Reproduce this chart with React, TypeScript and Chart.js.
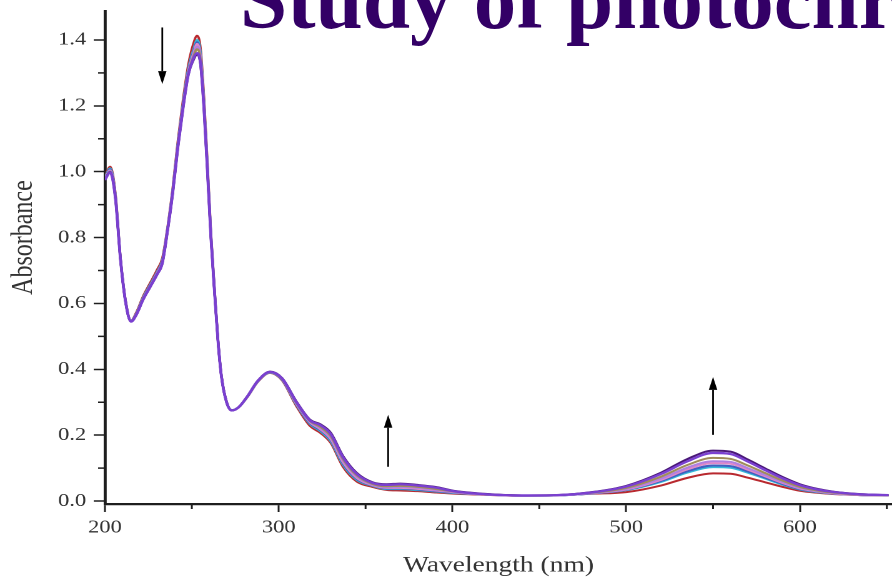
import React, { useEffect, useRef } from 'react';
import { Chart, registerables } from 'chart.js';

Chart.register(...registerables);

// ---------------- data ----------------
const wavelengths = [
  200, 203, 206, 209, 212, 215, 218, 222, 226, 230,
  233, 236, 239, 242, 245, 248, 251, 253, 255, 257,
  259, 261, 263, 265, 267, 270, 273, 277, 282, 288,
  295, 302, 310, 318, 324, 330, 337, 345, 354, 362,
  370, 380, 390, 402, 418, 440, 460, 480, 500, 520,
  535, 550, 560, 570, 580, 590, 600, 610, 620, 635, 651,
];

const absRed = [
  0.985, 1.015, 0.935, 0.735, 0.605, 0.548, 0.572, 0.622, 0.662, 0.702,
  0.737, 0.83, 0.95, 1.095, 1.22, 1.325, 1.39, 1.413, 1.375, 1.225,
  1.025, 0.815, 0.65, 0.495, 0.383, 0.302, 0.276, 0.285, 0.316, 0.362,
  0.389, 0.366, 0.29, 0.228, 0.207, 0.176, 0.104, 0.059, 0.043, 0.034,
  0.032, 0.030, 0.026, 0.022, 0.019, 0.016, 0.017, 0.022, 0.027, 0.047,
  0.070, 0.084, 0.083, 0.071, 0.057, 0.043, 0.031, 0.025, 0.021, 0.018, 0.017,
];
const absCyan = [
  0.982, 1.01, 0.93, 0.733, 0.603, 0.547, 0.569, 0.618, 0.657, 0.696,
  0.731, 0.826, 0.944, 1.087, 1.21, 1.313, 1.372, 1.40, 1.362, 1.212,
  1.016, 0.81, 0.646, 0.493, 0.382, 0.301, 0.276, 0.285, 0.317, 0.363,
  0.39, 0.368, 0.294, 0.234, 0.212, 0.181, 0.110, 0.064, 0.046, 0.036,
  0.036, 0.033, 0.029, 0.024, 0.020, 0.016, 0.017, 0.023, 0.033, 0.058,
  0.086, 0.103, 0.101, 0.086, 0.068, 0.050, 0.035, 0.027, 0.022, 0.018, 0.017,
];
const absBlue = [
  0.98, 1.007, 0.928, 0.732, 0.602, 0.546, 0.568, 0.616, 0.655, 0.694,
  0.728, 0.824, 0.941, 1.083, 1.205, 1.308, 1.365, 1.393, 1.355, 1.206,
  1.011, 0.807, 0.644, 0.492, 0.381, 0.301, 0.276, 0.285, 0.317, 0.364,
  0.391, 0.369, 0.296, 0.236, 0.215, 0.185, 0.114, 0.067, 0.047, 0.038,
  0.038, 0.035, 0.030, 0.025, 0.020, 0.016, 0.017, 0.023, 0.034, 0.061,
  0.090, 0.108, 0.106, 0.090, 0.071, 0.052, 0.036, 0.028, 0.022, 0.018, 0.017,
];
const absPink = [
  0.979, 1.004, 0.926, 0.731, 0.601, 0.546, 0.567, 0.615, 0.653, 0.692,
  0.726, 0.822, 0.939, 1.08, 1.202, 1.304, 1.36, 1.388, 1.35, 1.202,
  1.008, 0.805, 0.643, 0.491, 0.381, 0.3, 0.275, 0.285, 0.318, 0.364,
  0.391, 0.37, 0.297, 0.239, 0.218, 0.188, 0.118, 0.070, 0.048, 0.040,
  0.040, 0.037, 0.032, 0.026, 0.020, 0.016, 0.017, 0.024, 0.035, 0.064,
  0.096, 0.115, 0.113, 0.095, 0.075, 0.055, 0.038, 0.029, 0.023, 0.018, 0.017,
];
const absLavender = [
  0.978, 1.002, 0.924, 0.731, 0.601, 0.545, 0.566, 0.614, 0.652, 0.69,
  0.724, 0.821, 0.937, 1.078, 1.199, 1.3, 1.355, 1.38, 1.345, 1.198,
  1.005, 0.803, 0.642, 0.491, 0.38, 0.3, 0.275, 0.285, 0.318, 0.365,
  0.392, 0.371, 0.299, 0.241, 0.221, 0.192, 0.123, 0.074, 0.050, 0.042,
  0.043, 0.040, 0.034, 0.027, 0.021, 0.017, 0.017, 0.024, 0.037, 0.068,
  0.101, 0.121, 0.119, 0.100, 0.079, 0.058, 0.040, 0.030, 0.024, 0.019, 0.017,
];
const absOlive = [
  0.977, 1.0, 0.922, 0.73, 0.6, 0.545, 0.566, 0.613, 0.651, 0.689,
  0.723, 0.82, 0.936, 1.077, 1.197, 1.298, 1.35, 1.372, 1.34, 1.195,
  1.003, 0.802, 0.641, 0.49, 0.38, 0.3, 0.275, 0.285, 0.318, 0.365,
  0.392, 0.371, 0.3, 0.243, 0.225, 0.197, 0.128, 0.078, 0.052, 0.045,
  0.046, 0.043, 0.037, 0.028, 0.021, 0.017, 0.018, 0.025, 0.040, 0.074,
  0.109, 0.131, 0.128, 0.108, 0.085, 0.062, 0.043, 0.032, 0.025, 0.019, 0.017,
];
const absDarkPurple = [
  0.976, 0.999, 0.921, 0.73, 0.6, 0.545, 0.565, 0.612, 0.65, 0.688,
  0.722, 0.82, 0.935, 1.075, 1.195, 1.295, 1.34, 1.356, 1.325, 1.188,
  1.0, 0.8, 0.64, 0.49, 0.38, 0.3, 0.275, 0.285, 0.318, 0.365,
  0.393, 0.373, 0.304, 0.247, 0.233, 0.207, 0.137, 0.085, 0.057, 0.051,
  0.053, 0.049, 0.043, 0.030, 0.022, 0.017, 0.018, 0.027, 0.046, 0.086,
  0.127, 0.153, 0.150, 0.126, 0.099, 0.073, 0.051, 0.037, 0.028, 0.021, 0.018,
];
const absViolet = [
  0.975, 0.998, 0.92, 0.73, 0.6, 0.545, 0.565, 0.612, 0.65, 0.688,
  0.722, 0.82, 0.935, 1.075, 1.195, 1.295, 1.345, 1.36, 1.33, 1.19,
  1.0, 0.8, 0.64, 0.49, 0.38, 0.3, 0.275, 0.285, 0.318, 0.365,
  0.392, 0.372, 0.302, 0.245, 0.23, 0.203, 0.133, 0.082, 0.055, 0.049,
  0.051, 0.047, 0.041, 0.029, 0.021, 0.017, 0.018, 0.026, 0.044, 0.082,
  0.12, 0.146, 0.143, 0.12, 0.094, 0.069, 0.048, 0.035, 0.027, 0.02, 0.018,
];

// drawn on top first (Chart.js paints dataset 0 last)
const seriesValues = [absViolet, absDarkPurple, absOlive, absLavender, absPink, absBlue, absCyan, absRed];
const seriesColors = ['#7a40d0', '#4a1878', '#a08c5a', '#b080e0', '#e088c8', '#4060c0', '#35b8d8', '#b8292f'];

// arrows showing the direction of change
const arrowWavelengths = [233, 363, 550];
const arrowFrom = [1.438, 0.104, 0.201];
const arrowTo = [1.266, 0.262, 0.377];

const X_TITLE = 'Wavelength (nm)';
const Y_TITLE = 'Absorbance';
const PAGE_TITLE = 'Study of photochromism';

const X_MIN = 200;
const X_MAX = 653;
const Y_MIN = -0.009;
const Y_MAX = 1.488;
const Y_TITLE_CENTER = 0.8; // axis value where the rotated y title is centred

// ---------------- styling ----------------
const SERIF = "'Liberation Serif', 'Times New Roman', serif";
const AXIS_COLOR = '#1e1e1e';
const TEXT_COLOR = '#333333';
const PAGE_W = 892;
const PAGE_H = 581;
const CHART_W = 714; // drawn then stretched horizontally like the reference picture

const isMajorY = (v: number) => Math.round(v * 10) % 2 === 0;
const isMajorX = (v: number) => Math.round(v) % 100 === 0;

const minorTicksPlugin = {
  id: 'minorTicks',
  afterDraw(chart: any) {
    const { ctx, chartArea } = chart;
    const xs = chart.scales.x;
    const ys = chart.scales.y;
    ctx.save();
    ctx.strokeStyle = AXIS_COLOR;
    ctx.lineWidth = 1.5;
    xs.ticks.forEach((t: any) => {
      if (!isMajorX(t.value)) {
        const px = xs.getPixelForValue(t.value);
        ctx.beginPath();
        ctx.moveTo(px, chartArea.bottom);
        ctx.lineTo(px, chartArea.bottom + 5);
        ctx.stroke();
      }
    });
    ys.ticks.forEach((t: any) => {
      if (!isMajorY(t.value)) {
        const py = ys.getPixelForValue(t.value);
        ctx.beginPath();
        ctx.moveTo(chartArea.left, py);
        ctx.lineTo(chartArea.left - 5.5, py);
        ctx.stroke();
      }
    });
    // rotated y-axis title, placed along the axis like the reference
    ctx.fillStyle = TEXT_COLOR;
    ctx.font = `24px ${SERIF}`;
    ctx.textAlign = 'center';
    ctx.textBaseline = 'middle';
    ctx.translate(ys.left + 19.4, ys.getPixelForValue(Y_TITLE_CENTER));
    ctx.rotate(-Math.PI / 2);
    ctx.fillText(Y_TITLE, 0, 0);
    ctx.restore();
  },
};

const arrowsPlugin = {
  id: 'arrows',
  afterDatasetsDraw(chart: any) {
    const { ctx } = chart;
    const xs = chart.scales.x;
    const ys = chart.scales.y;
    ctx.save();
    ctx.strokeStyle = '#000';
    ctx.fillStyle = '#000';
    ctx.lineWidth = 1.4;
    arrowWavelengths.forEach((w, i) => {
      const px = xs.getPixelForValue(w);
      const y0 = ys.getPixelForValue(arrowFrom[i]);
      const y1 = ys.getPixelForValue(arrowTo[i]);
      const dir = y1 > y0 ? 1 : -1;
      const head = 13;
      const half = 3.4;
      ctx.beginPath();
      ctx.moveTo(px, y0);
      ctx.lineTo(px, y1 - dir * head);
      ctx.stroke();
      ctx.beginPath();
      ctx.moveTo(px, y1);
      ctx.lineTo(px - half, y1 - dir * head);
      ctx.lineTo(px + half, y1 - dir * head);
      ctx.closePath();
      ctx.fill();
    });
    ctx.restore();
  },
};

export default function App() {
  const ref = useRef<HTMLCanvasElement>(null);

  useEffect(() => {
    document.body.style.margin = '0';
    const canvas = ref.current;
    if (!canvas) return;

    const datasets = seriesValues.map((vals, si) => ({
      label: `spectrum ${si + 1}`,
      data: wavelengths.map((w, i) => ({ x: w, y: vals[i] })),
      borderColor: seriesColors[si],
      backgroundColor: seriesColors[si],
      borderWidth: si === 0 ? 2.3 : 2,
      pointRadius: 0,
      fill: false,
      cubicInterpolationMode: 'monotone' as const,
    }));

    const tickFont = { family: SERIF, size: 18 };

    const chart = new Chart(canvas, {
      type: 'line',
      data: { datasets },
      options: {
        animation: false,
        responsive: false,
        devicePixelRatio: 2,
        layout: { padding: { top: 11, left: 0, right: 0, bottom: 0 } },
        plugins: {
          legend: { display: false },
          tooltip: { enabled: false },
          title: { display: false },
        },
        scales: {
          x: {
            type: 'linear',
            min: X_MIN,
            max: X_MAX,
            ticks: {
              stepSize: 50,
              includeBounds: false,
              autoSkip: false,
              maxRotation: 0,
              padding: 5,
              color: TEXT_COLOR,
              font: tickFont,
              callback: (v: any) => (isMajorX(Number(v)) ? String(Math.round(Number(v))) : ''),
            },
            grid: {
              drawOnChartArea: false,
              drawTicks: true,
              tickLength: 8,
              tickWidth: 1.5,
              tickColor: (c: any) => (c.tick && isMajorX(c.tick.value) ? AXIS_COLOR : 'rgba(0,0,0,0)'),
            },
            border: { display: true, color: AXIS_COLOR, width: 2.2 },
            title: {
              display: true,
              text: X_TITLE,
              color: TEXT_COLOR,
              font: { family: SERIF, size: 22 },
              padding: { top: 0, bottom: 2 },
            },
            afterFit: (s: any) => {
              s.height = 77;
              s.paddingLeft = 0;
              s.paddingRight = 0;
            },
          },
          y: {
            type: 'linear',
            min: Y_MIN,
            max: Y_MAX,
            ticks: {
              stepSize: 0.1,
              includeBounds: false,
              autoSkip: false,
              padding: 6,
              color: TEXT_COLOR,
              font: tickFont,
              callback: (v: any) => (isMajorY(Number(v)) ? Number(v).toFixed(1) : ''),
            },
            grid: {
              drawOnChartArea: false,
              drawTicks: true,
              tickLength: 9,
              tickWidth: 1.5,
              tickColor: (c: any) => (c.tick && isMajorY(c.tick.value) ? AXIS_COLOR : 'rgba(0,0,0,0)'),
            },
            border: { display: true, color: AXIS_COLOR, width: 2.4 },
            title: { display: false, text: Y_TITLE },
            afterFit: (s: any) => {
              s.width = 84;
              s.paddingTop = 0;
              s.paddingBottom = 0;
            },
          },
        },
      },
      plugins: [minorTicksPlugin, arrowsPlugin],
    });

    return () => chart.destroy();
  }, []);

  return (
    <div
      style={{
        position: 'absolute',
        left: 0,
        top: 0,
        width: PAGE_W,
        height: PAGE_H,
        overflow: 'hidden',
        background: '#ffffff',
      }}
    >
      <div
        style={{
          position: 'absolute',
          left: 0,
          top: 0,
          width: CHART_W,
          height: PAGE_H,
          transform: `scaleX(${PAGE_W / CHART_W})`,
          transformOrigin: '0 0',
        }}
      >
        <canvas ref={ref} width={CHART_W} height={PAGE_H} style={{ display: 'block' }} />
      </div>
      <div
        style={{
          position: 'absolute',
          left: 240,
          top: -43,
          fontFamily: SERIF,
          fontWeight: 'bold',
          fontSize: 85,
          lineHeight: '85px',
          color: '#330066',
          whiteSpace: 'nowrap',
        }}
      >
        {PAGE_TITLE}
      </div>
    </div>
  );
}
